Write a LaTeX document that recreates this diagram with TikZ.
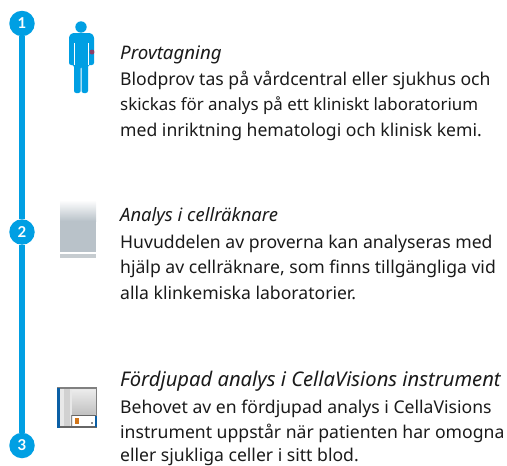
\documentclass[tikz,border=0pt]{standalone}
\usepackage{fontspec}
\setmainfont{Noto Sans}
\newfontfamily\numfont{Lato}
\definecolor{cblue}{HTML}{009FE3}
\definecolor{dblue}{HTML}{0B5FA5}
\definecolor{tcol}{HTML}{1A1A1A}
\definecolor{agrey}{HTML}{B9C2C9}
\definecolor{bgrey}{HTML}{C6CCD0}
\tikzset{
 numdot/.style={circle,fill=cblue,text=white,minimum size=25.5pt,inner sep=0pt,font=\numfont\fontsize{15}{15}\selectfont\bfseries},
 bodyline/.style={anchor=base west,inner sep=0pt,text=tcol,font=\fontsize{#1}{20}\selectfont},
 bodyline/.default=17.6,
 headline/.style={anchor=base west,inner sep=0pt,text=tcol,font=\fontsize{#1}{20}\selectfont\itshape},
}
\begin{document}
\begin{tikzpicture}[x=1pt,y=-1pt]
\useasboundingbox (0,0) rectangle (507,466);
\node[numdot] (n1) at (22,23.5) {1};
\node[numdot] (n2) at (22,232) {2};
\node[numdot] (n3) at (22,445.5) {3};
\draw[cblue,line width=6pt] (n1.south) -- (n2.north);
\draw[cblue,line width=6pt] (n2.south) -- (n3.north);
% person
\fill[cblue] (81,27) circle (5.7);
\fill[cblue,rounded corners=2.2pt] (72,33) -- (91,33) -- (94,36) -- (94,65) -- (88,65) -- (88,93) -- (81.5,93) -- (81.5,66) -- (80.7,66) -- (80.7,93) -- (74,93) -- (74,65) -- (69,65) -- (69,36) -- cycle;
\draw[white,line width=.5pt] (74,43) -- (74,65);
\draw[white,line width=.5pt] (88.5,43) -- (88.5,65);
\fill[red!60!purple,opacity=.6] (92,52) circle (2.5);
% analyser
\shade[top color=white,bottom color=agrey] (60,200) rectangle (96,221);
\fill[agrey] (60,221) rectangle (96,252);
\fill[bgrey] (60,253.5) rectangle (96,258);
% instrument
\fill[black!9] (58,388) rectangle (97,428);
\draw[black!50,line width=1.2pt] (58,388) rectangle (96.5,427);
\draw[black!60,line width=1.6pt] (60,427.2) -- (96.5,427.2);
\fill[black!18] (64,389) rectangle (70,426);
\shade[top color=black!8,bottom color=black!24] (72,390) rectangle (95.5,414);
\fill[white] (73,416) rectangle (95,426);
\draw[black!60,line width=.9pt] (71.5,415) -- (96,415);
\draw[black!45,line width=.7pt] (71.5,415) -- (71.5,426);
\fill[orange!80!black!90] (74.5,417.5) rectangle (78.5,423.5);
\fill[black!45] (91,422) rectangle (93,424);
\fill[dblue] (57,387.5) rectangle (59.5,428);
\fill[dblue] (95,416) rectangle (97,427);
% text
\node[headline=18.7] (h1) at (120,59) {Provtagning};
\node[bodyline] (a1) at (120,85) {Blodprov tas på vårdcentral eller sjukhus och};
\node[bodyline=16.9] (a2) at (120,110.5) {skickas för analys på ett kliniskt laboratorium};
\node[bodyline] (a3) at (120,136.5) {med inriktning hematologi och klinisk kemi.};
\node[headline=18.4] (h2) at (120,221) {Analys i cellräknare};
\node[bodyline] (b1) at (120,248) {Huvuddelen av proverna kan analyseras med};
\node[bodyline] (b2) at (120,273) {hjälp av cellräknare, som finns tillgängliga vid};
\node[bodyline] (b3) at (120,299) {alla klinkemiska laboratorier.};
\node[headline=20.2] (h3) at (120,386) {Fördjupad analys i CellaVisions instrument};
\node[bodyline] (c1) at (120,413) {Behovet av en fördjupad analys i CellaVisions};
\node[bodyline] (c2) at (120,438) {instrument uppstår när patienten har omogna};
\node[bodyline] (c3) at (120,461.5) {eller sjukliga celler i sitt blod.};
\end{tikzpicture}
\end{document}
